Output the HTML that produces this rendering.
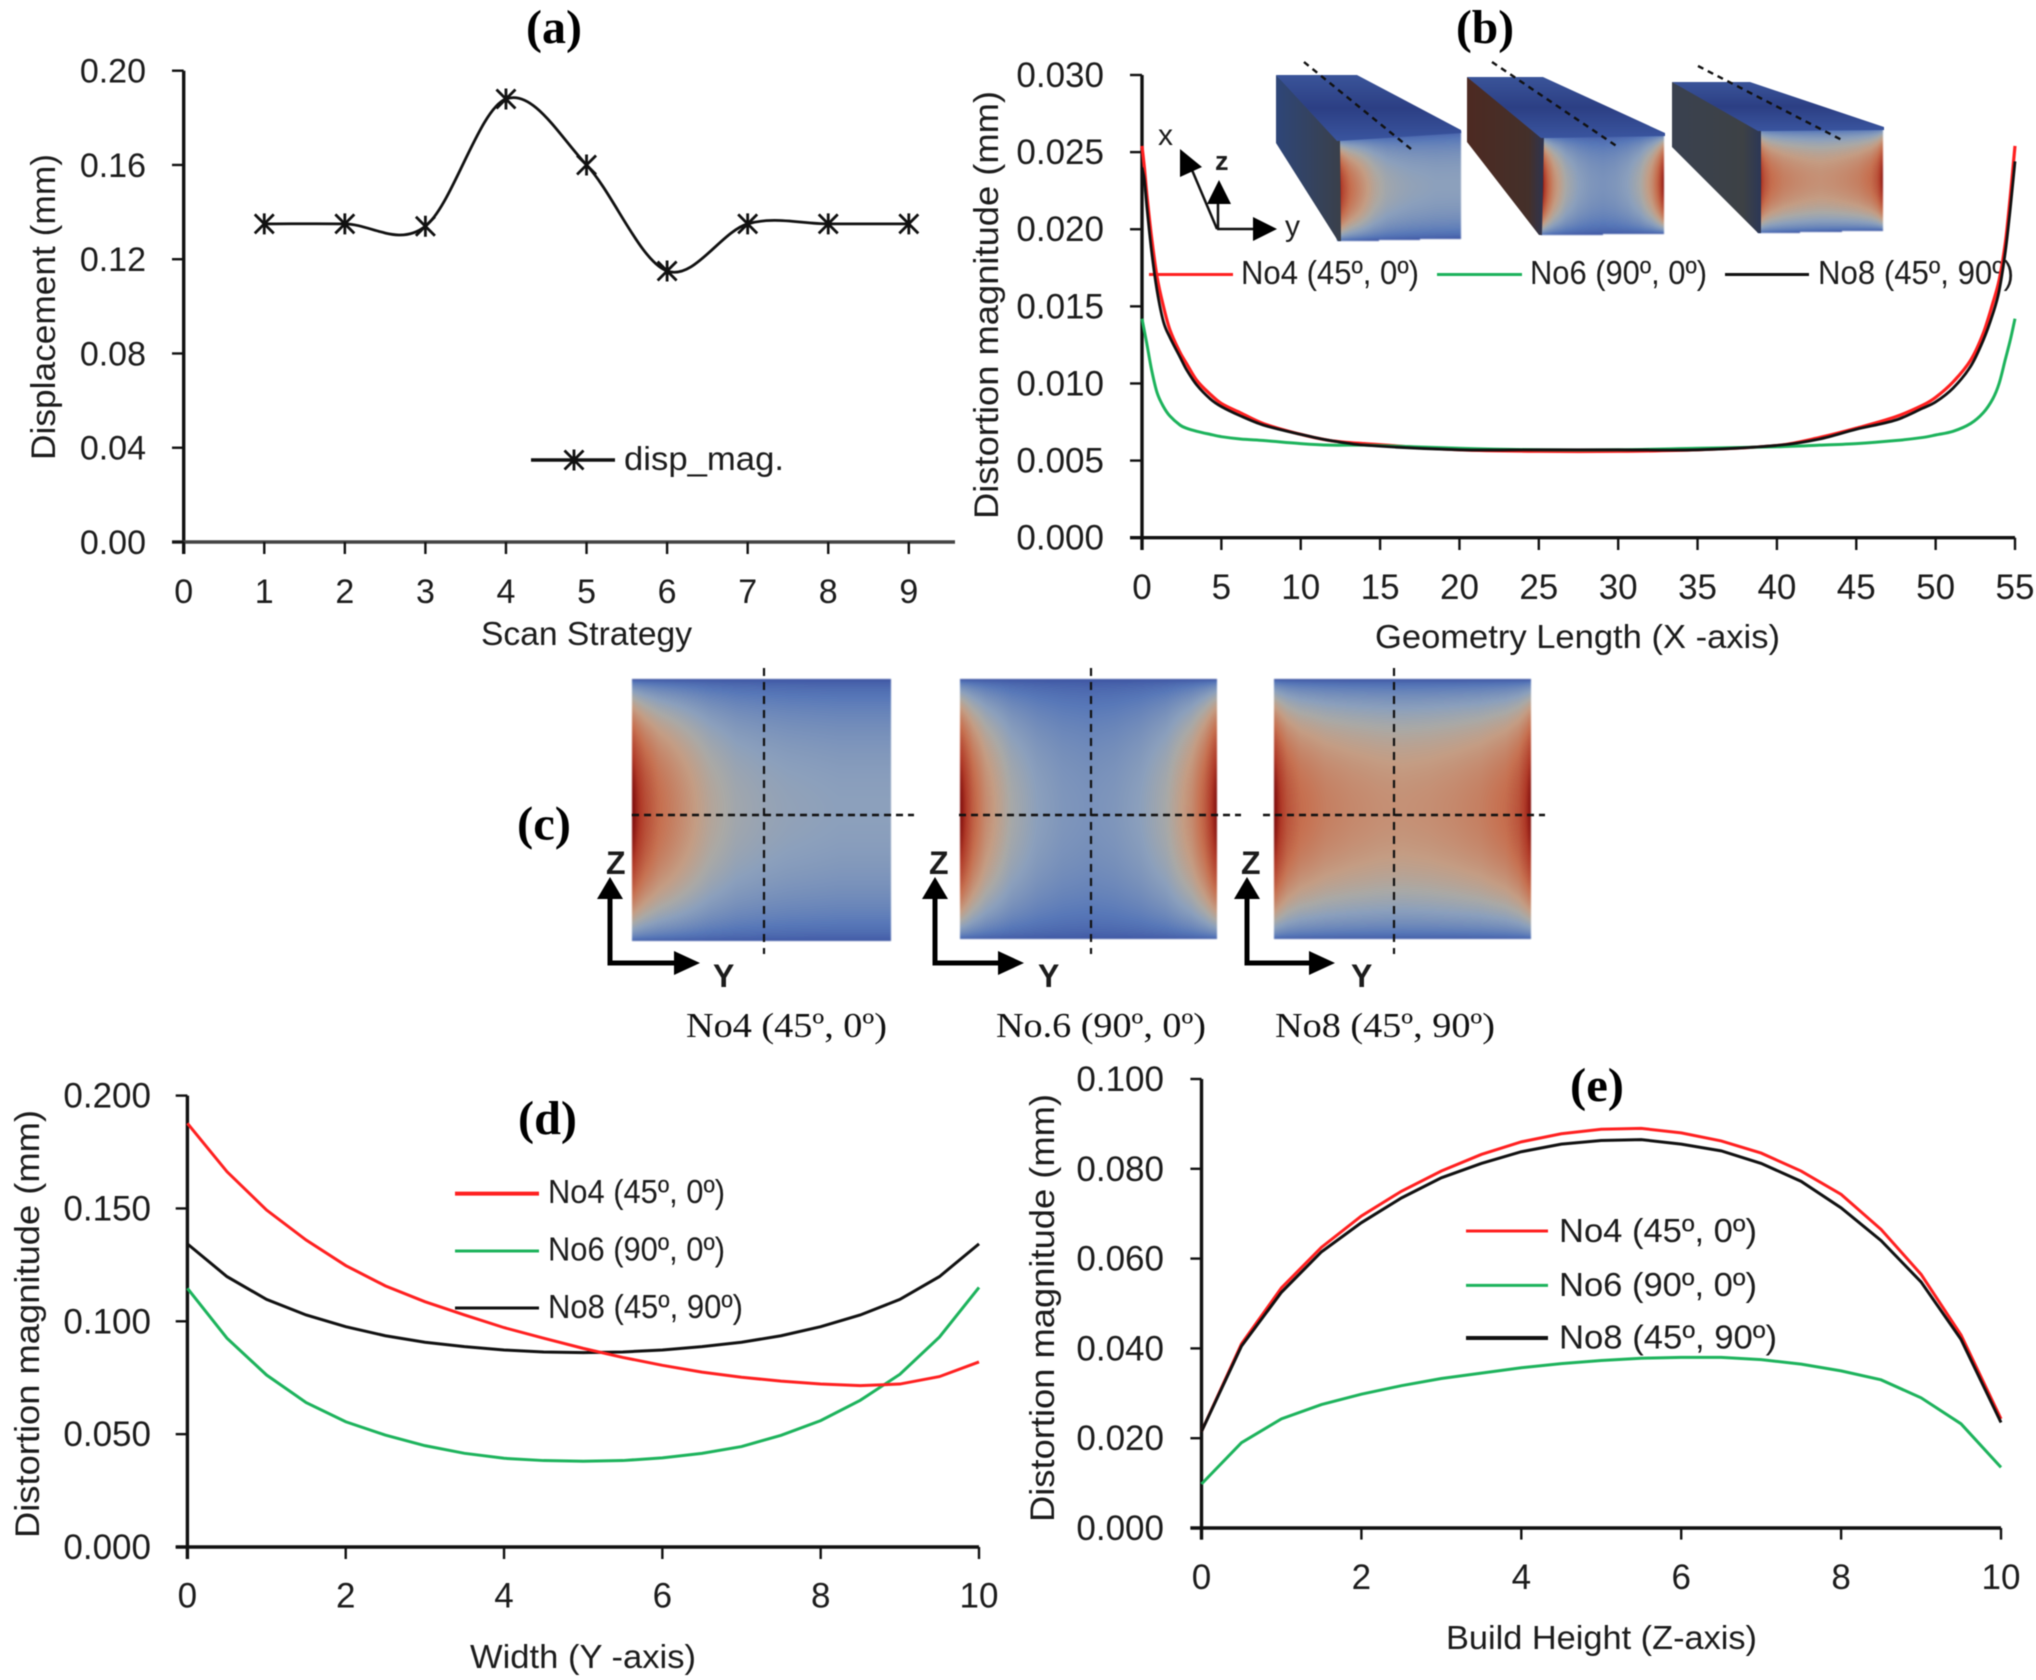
<!DOCTYPE html>
<html lang="en">
<head>
<meta charset="utf-8">
<title>Distortion charts</title>
<style>
html,body{margin:0;padding:0;background:#fff;}
#page{position:relative;width:2036px;height:1680px;overflow:hidden;background:#fff;}
#field-canvas{position:absolute;left:0;top:0;filter:blur(.8px);}
#chart-svg{position:absolute;left:0;top:0;filter:blur(.45px);}
text{font-family:"Liberation Sans",sans-serif;fill:#1c1c1c;}
.serif{font-family:"Liberation Serif",serif;fill:#111;}
.pl{font-family:"Liberation Serif",serif;font-weight:bold;font-size:48px;fill:#000;}
.tick{font-size:34px;}
.title{font-size:34px;}
.xtitle{font-size:33px;}
.leg{font-size:33px;}
</style>
</head>
<body>
<div id="page">
<canvas id="field-canvas" width="2036" height="1680"></canvas>
<svg id="chart-svg" xmlns="http://www.w3.org/2000/svg" width="2036" height="1680" viewBox="0 0 2036 1680">
<defs>
<linearGradient id="top-grad" x1="0" y1="0" x2="0" y2="1"><stop offset="0" stop-color="#3a5499"/><stop offset=".5" stop-color="#2c3f84"/><stop offset="1" stop-color="#3a559f"/></linearGradient>
<linearGradient id="side-a" x1="0" y1="0" x2="1" y2="0"><stop offset="0" stop-color="#2e4678"/><stop offset="1" stop-color="#3a404a"/></linearGradient>
<linearGradient id="side-b" x1="0" y1="0" x2="1" y2="0"><stop offset="0" stop-color="#4d2a22"/><stop offset=".8" stop-color="#44302a"/><stop offset="1" stop-color="#2e3450"/></linearGradient>
<linearGradient id="side-c" x1="0" y1="0" x2="1" y2="0"><stop offset="0" stop-color="#3a4150"/><stop offset=".8" stop-color="#3d4145"/><stop offset="1" stop-color="#2c3756"/></linearGradient>
</defs>

<!-- panel letters -->
<text class="pl" x="526" y="43" textLength="56" lengthAdjust="spacingAndGlyphs">(a)</text>
<text class="pl" x="1456" y="43" textLength="58" lengthAdjust="spacingAndGlyphs">(b)</text>
<text class="pl" x="517" y="839.5" textLength="54" lengthAdjust="spacingAndGlyphs">(c)</text>
<text class="pl" x="518" y="1134" textLength="59" lengthAdjust="spacingAndGlyphs">(d)</text>
<text class="pl" x="1570" y="1101" textLength="54" lengthAdjust="spacingAndGlyphs">(e)</text>

<!-- panel a text -->
<text class="title" transform="translate(55,460) rotate(-90)" textLength="306" lengthAdjust="spacingAndGlyphs">Displacement (mm)</text>
<text class="xtitle" x="481" y="645" textLength="211" lengthAdjust="spacingAndGlyphs">Scan Strategy</text>
<text class="leg" x="624" y="470" textLength="160" lengthAdjust="spacingAndGlyphs">disp_mag.</text>

<!-- panel b inset blocks -->
<g>
<polygon points="1276,75 1340,138 1341,241 1338,241 1276,143" fill="url(#side-a)"/>
<polygon points="1276,75 1357,75 1461,130 1461,133 1337,141" fill="url(#top-grad)"/>
<polygon points="1467,77 1544,135 1542,235 1539,235 1467,142" fill="url(#side-b)"/>
<polygon points="1467,77 1543,77 1665,133 1665,136 1541,138" fill="url(#top-grad)"/>
<polygon points="1672,82 1761,128 1761,233 1758,233 1672,147" fill="url(#side-c)"/>
<polygon points="1672,82 1750,82 1884,127 1884,130 1758,131" fill="url(#top-grad)"/>
<line x1="1304" y1="62" x2="1411" y2="149" stroke="#111" stroke-width="2.4" stroke-dasharray="6 5"/>
<line x1="1492" y1="62" x2="1618" y2="147" stroke="#111" stroke-width="2.4" stroke-dasharray="6 5"/>
<line x1="1698" y1="66" x2="1842" y2="140" stroke="#111" stroke-width="2.4" stroke-dasharray="6 5"/>
</g>

<!-- triad -->
<g>
<line x1="1217" y1="229" x2="1192" y2="170" stroke="#111" stroke-width="2.5"/>
<polygon points="1180,149 1202,167 1180,177" fill="#000"/>
<line x1="1218" y1="229" x2="1218" y2="204" stroke="#111" stroke-width="2.5"/>
<polygon points="1219,180 1207,204 1231,204" fill="#000"/>
<line x1="1217" y1="229" x2="1254" y2="229" stroke="#111" stroke-width="2.5"/>
<polygon points="1277,229 1253,217 1253,241" fill="#000"/>
<text x="1158" y="145" font-size="30">x</text>
<text x="1215" y="170" font-size="27" font-weight="bold">z</text>
<text x="1285" y="236" font-size="30">y</text>
</g>

<!-- panel b text -->
<text class="title" transform="translate(998,519) rotate(-90)" textLength="428" lengthAdjust="spacingAndGlyphs">Distortion magnitude (mm)</text>
<text class="xtitle" x="1375" y="648" textLength="405" lengthAdjust="spacingAndGlyphs">Geometry Length (X -axis)</text>
<line x1="1149" y1="274.5" x2="1233" y2="274.5" stroke="#ff2020" stroke-width="3"/>
<text class="leg" x="1241" y="284" textLength="178" lengthAdjust="spacingAndGlyphs">No4 (45º, 0º)</text>
<line x1="1437" y1="274.5" x2="1522" y2="274.5" stroke="#1db35c" stroke-width="3"/>
<text class="leg" x="1530" y="284" textLength="177" lengthAdjust="spacingAndGlyphs">No6 (90º, 0º)</text>
<line x1="1725" y1="274.5" x2="1809" y2="274.5" stroke="#111" stroke-width="3"/>
<text class="leg" x="1818" y="284" textLength="196" lengthAdjust="spacingAndGlyphs">No8 (45º, 90º)</text>

<!-- panel c overlays -->
<g stroke="#111" fill="none">
<line x1="764" y1="668" x2="764" y2="954" stroke-width="2.2" stroke-dasharray="8 6"/>
<line x1="1091" y1="668" x2="1091" y2="954" stroke-width="2.2" stroke-dasharray="8 6"/>
<line x1="1394" y1="668" x2="1394" y2="954" stroke-width="2.2" stroke-dasharray="8 6"/>
<line x1="632" y1="815" x2="914" y2="815" stroke-width="2.4" stroke-dasharray="7 5"/>
<line x1="959" y1="815" x2="1241" y2="815" stroke-width="2.4" stroke-dasharray="7 5"/>
<line x1="1263" y1="815" x2="1545" y2="815" stroke-width="2.4" stroke-dasharray="7 5"/>
</g>
<g>
<path d="M610,899 V963 H675" fill="none" stroke="#000" stroke-width="5"/>
<polygon points="610,877 597,899 623,899" fill="#000"/>
<polygon points="700,963 674,951 674,975" fill="#000"/>
<text x="606" y="874" font-size="32" font-weight="bold">Z</text>
<text x="713" y="987" font-size="32" font-weight="bold">Y</text>
</g>
<g>
<path d="M935,899 V963 H999" fill="none" stroke="#000" stroke-width="5"/>
<polygon points="935,877 922,899 948,899" fill="#000"/>
<polygon points="1024,963 998,951 998,975" fill="#000"/>
<text x="929" y="874" font-size="32" font-weight="bold">Z</text>
<text x="1038" y="987" font-size="32" font-weight="bold">Y</text>
</g>
<g>
<path d="M1247,899 V963 H1310" fill="none" stroke="#000" stroke-width="5"/>
<polygon points="1247,877 1234,899 1260,899" fill="#000"/>
<polygon points="1335,963 1309,951 1309,975" fill="#000"/>
<text x="1241" y="874" font-size="32" font-weight="bold">Z</text>
<text x="1351" y="987" font-size="32" font-weight="bold">Y</text>
</g>
<text class="serif" font-size="35" x="686" y="1037" textLength="201" lengthAdjust="spacingAndGlyphs">No4 (45º, 0º)</text>
<text class="serif" font-size="35" x="996" y="1037" textLength="210" lengthAdjust="spacingAndGlyphs">No.6 (90º, 0º)</text>
<text class="serif" font-size="35" x="1275" y="1037" textLength="220" lengthAdjust="spacingAndGlyphs">No8 (45º, 90º)</text>

<!-- panel d text -->
<text class="title" transform="translate(39,1538) rotate(-90)" textLength="428" lengthAdjust="spacingAndGlyphs">Distortion magnitude (mm)</text>
<text class="xtitle" x="470" y="1668" textLength="226" lengthAdjust="spacingAndGlyphs">Width (Y -axis)</text>
<line x1="455" y1="1193.6" x2="539" y2="1193.6" stroke="#ff2020" stroke-width="4"/>
<text class="leg" x="548" y="1203" textLength="177" lengthAdjust="spacingAndGlyphs">No4 (45º, 0º)</text>
<line x1="455" y1="1251" x2="539" y2="1251" stroke="#1db35c" stroke-width="3"/>
<text class="leg" x="548" y="1260.5" textLength="177" lengthAdjust="spacingAndGlyphs">No6 (90º, 0º)</text>
<line x1="455" y1="1308" x2="539" y2="1308" stroke="#111" stroke-width="3"/>
<text class="leg" x="548" y="1318" textLength="195" lengthAdjust="spacingAndGlyphs">No8 (45º, 90º)</text>

<!-- panel e text -->
<text class="title" transform="translate(1054,1522) rotate(-90)" textLength="428" lengthAdjust="spacingAndGlyphs">Distortion magnitude (mm)</text>
<text class="xtitle" x="1446" y="1649" textLength="311" lengthAdjust="spacingAndGlyphs">Build Height (Z-axis)</text>
<line x1="1466" y1="1231" x2="1548" y2="1231" stroke="#ff2020" stroke-width="3"/>
<text class="leg" x="1559" y="1242" font-size="35" textLength="198" lengthAdjust="spacingAndGlyphs">No4 (45º, 0º)</text>
<line x1="1466" y1="1285.4" x2="1548" y2="1285.4" stroke="#1db35c" stroke-width="3"/>
<text class="leg" x="1559" y="1296" font-size="35" textLength="198" lengthAdjust="spacingAndGlyphs">No6 (90º, 0º)</text>
<line x1="1466" y1="1338" x2="1548" y2="1338" stroke="#111" stroke-width="4"/>
<text class="leg" x="1559" y="1348.6" font-size="35" textLength="218" lengthAdjust="spacingAndGlyphs">No8 (45º, 90º)</text>

<g id="marks"></g>
</svg>
</div>

<script>
// ---------- Panel (a) data ----------
const aCategories = [1, 2, 3, 4, 5, 6, 7, 8, 9];
const aDispMag = [0.135, 0.135, 0.134, 0.188, 0.160, 0.115, 0.135, 0.135, 0.135];
const aXTicks = [0, 1, 2, 3, 4, 5, 6, 7, 8, 9];
const aYTicks = [0, 0.04, 0.08, 0.12, 0.16, 0.20];
const aYTickLabels = ['0.00', '0.04', '0.08', '0.12', '0.16', '0.20'];

// ---------- Panel (b) data ----------
const bLength = [0, .15, .3, .6, .95, 1.35, 1.75, 2.4, 2.8, 3.45, 4.3, 5, 6.2, 7.65, 10, 11.85, 14, 20, 25, 30, 35, 40.2, 42.7, 45, 47.5, 49.2, 50, 51.1, 52.2, 53, 53.6, 54, 54.4, 54.7, 55];
const bNo4 = [.0254, .0240, .0223, .0195, .0169, .0150, .0135, .0120, .0113, .0102, .0093, .0087, .0081, .0074, .0067, .0063, .0061, .0057, .0056, .0056, .0057, .0060, .0065, .0071, .00785, .0086, .0091, .0101, .0115, .01325, .0152, .0167, .0192, .0221, .0254];
const bNo6 = [.0142, .0134, .0126, .0109, .0094, .0085, .0079, .0073, .0071, .0069, .0067, .00655, .0064, .0063, .0061, .0060, .0060, .0058, .0057, .0057, .0058, .0059, .0060, .0061, .0063, .0065, .00666, .0069, .0074, .0081, .0090, .0100, .0116, .0128, .0142];
const bNo8 = [.0240, .0232, .0215, .0186, .0160, .0140, .0130, .0117, .0109, .0099, .0090, .0085, .0079, .0073, .0067, .0063, .0060, .0057, .0057, .0057, .0057, .0060, .0064, .00703, .00763, .0084, .0088, .0097, .0111, .0128, .0145, .0160, .0186, .0213, .0244];
const bXTicks = [0, 5, 10, 15, 20, 25, 30, 35, 40, 45, 50, 55];
const bYTicks = [0, 0.005, 0.010, 0.015, 0.020, 0.025, 0.030];
const bYTickLabels = ['0.000', '0.005', '0.010', '0.015', '0.020', '0.025', '0.030'];

// ---------- Panel (d) data ----------
const dWidth = [0, .5, 1, 1.5, 2, 2.5, 3, 3.5, 4, 4.5, 5, 5.5, 6, 6.5, 7, 7.5, 8, 8.5, 9, 9.5, 10];
const dNo4 = [.1877, .1663, .1493, .136, .1247, .1157, .1087, .1028, .0972, .0925, .088, .084, .0805, .0775, .0752, .0735, .0722, .0715, .0722, .0755, .082];
const dNo6 = [.1146, .0925, .0762, .064, .0555, .0496, .0449, .0415, .0393, .0383, .038, .0383, .0395, .0415, .0445, .0495, .056, .065, .0765, .093, .115];
const dNo8 = [.1343, .1198, .1097, .1028, .0976, .0936, .0907, .0888, .0873, .0864, .0861, .0864, .0873, .0888, .0907, .0936, .0976, .1028, .1097, .1198, .1343];
const dXTicks = [0, 2, 4, 6, 8, 10];
const dYTicks = [0, 0.05, 0.10, 0.15, 0.20];
const dYTickLabels = ['0.000', '0.050', '0.100', '0.150', '0.200'];

// ---------- Panel (e) data ----------
const eHeight = [0, .5, 1, 1.5, 2, 2.5, 3, 3.5, 4, 4.5, 5, 5.5, 6, 6.5, 7, 7.5, 8, 8.5, 9, 9.5, 10];
const eNo4 = [.0215, .041, .0535, .0625, .0695, .0750, .0795, .0832, .086, .0878, .0888, .089, .088, .0862, .0835, .0795, .0743, .0665, .0565, .043, .0243];
const eNo6 = [.0098, .019, .0243, .0275, .0298, .0317, .0333, .0345, .0357, .0366, .0373, .0378, .038, .038, .0375, .0365, .035, .033, .029, .0232, .0135];
const eNo8 = [.0215, .0405, .0525, .0615, .0680, .0735, .078, .0812, .0838, .0855, .0863, .0865, .0855, .084, .0812, .0772, .0713, .0640, .0548, .042, .0235];
const eXTicks = [0, 2, 4, 6, 8, 10];
const eYTicks = [0, 0.02, 0.04, 0.06, 0.08, 0.10];
const eYTickLabels = ['0.000', '0.020', '0.040', '0.060', '0.080', '0.100'];

// Relative distortion across the section width for the contour maps (panel c)
const sectionWidthPos = [0, .02, .05, .1, .2, .3, .4, .5, .6, .7, .8, .9, .95, .98, 1];
const sectionNo4 = [1, .93, .85, .76, .65, .54, .47, .44, .42, .41, .40, .40, .40, .40, .40];
const sectionNo6 = [1, .92, .80, .66, .49, .40, .35, .33, .35, .40, .49, .66, .80, .92, 1];
const sectionNo8 = [1, .92, .83, .76, .70, .67, .65, .64, .65, .67, .70, .76, .83, .92, 1];
const rampStops = [0, .2, .4, .5, .6, .75, .9, 1];
const rampColors = [[58, 80, 160], [88, 120, 184], [140, 160, 188], [170, 169, 166], [196, 157, 132], [198, 112, 80], [176, 58, 40], [125, 10, 10]];

const SVGNS = 'http://www.w3.org/2000/svg';
const marks = document.getElementById('marks');

function make(tag, attrs, parent) {
  const n = document.createElementNS(SVGNS, tag);
  for (const k in attrs) n.setAttribute(k, attrs[k]);
  (parent || marks).appendChild(n);
  return n;
}

function linear(d0, d1, r0, r1) {
  return v => r0 + (v - d0) * (r1 - r0) / (d1 - d0);
}

function drawAxes(panel, sx, sy, xTicks, yTicks, yLabels, o) {
  const g = make('g', {});
  
  
  const yAxis = make('line', { x1: sx(0), x2: sx(0), y1: sy(yTicks[yTicks.length - 1]), y2: o.bottomTick, stroke: '#111', 'stroke-width': 3.4 }, g);
  
  
  const xAxis = make('line', { x1: o.leftTick, x2: o.xEnd, y1: sy(0), y2: sy(0), stroke: o.xColor || '#111', 'stroke-width': 3.4 }, g);
  
  
  xTicks.forEach(t => {
    const tl = make('line', { x1: sx(t), x2: sx(t), y1: sy(0), y2: o.bottomTick, stroke: '#111', 'stroke-width': 2.4 }, g);
    
    
    const lb = make('text', { x: sx(t), y: o.xLabelY, 'text-anchor': 'middle', 'class': 'tick' }, g);
    
    
    lb.style.fontSize = o.fs + 'px';
    lb.textContent = String(t);
  });
  yTicks.forEach((t, i) => {
    const tl = make('line', { x1: o.leftTick, x2: sx(0), y1: sy(t), y2: sy(t), stroke: '#111', 'stroke-width': 2.4 }, g);
    
    
    const lb = make('text', { x: o.yLabelX, y: sy(t) + 12, 'text-anchor': 'end', 'class': 'tick' }, g);
    
    
    lb.style.fontSize = o.fs + 'px';
    lb.textContent = yLabels[i];
  });
}

function linePath(xs, ys, sx, sy) {
  return xs.map((x, i) => (i ? 'L' : 'M') + sx(x).toFixed(2) + ',' + sy(ys[i]).toFixed(2)).join(' ');
}

// Hermite spline with finite-difference tangents (equals Catmull-Rom on even spacing)
function smoothPath(xs, ys, sx, sy) {
  const P = xs.map((x, i) => [sx(x), sy(ys[i])]);
  const n = P.length;
  const slope = i => {
    const a = P[Math.max(i - 1, 0)], b = P[Math.min(i + 1, n - 1)];
    return (b[1] - a[1]) / (b[0] - a[0]);
  };
  let d = 'M' + P[0][0].toFixed(2) + ',' + P[0][1].toFixed(2);
  for (let i = 0; i < n - 1; i++) {
    const h = P[i + 1][0] - P[i][0];
    const m1 = slope(i), m2 = slope(i + 1);
    d += ' C' + (P[i][0] + h / 3).toFixed(2) + ',' + (P[i][1] + m1 * h / 3).toFixed(2) + ' ' +
      (P[i + 1][0] - h / 3).toFixed(2) + ',' + (P[i + 1][1] - m2 * h / 3).toFixed(2) + ' ' +
      P[i + 1][0].toFixed(2) + ',' + P[i + 1][1].toFixed(2);
  }
  return d;
}

function asterisk(cx, cy, parent) {
  const r = 9.5;
  return make('path', {
    d: `M${cx - r},${cy - r} L${cx + r},${cy + r} M${cx - r},${cy + r} L${cx + r},${cy - r} M${cx},${cy - r - 1} L${cx},${cy + r + 1}`,
    stroke: '#111', 'stroke-width': 2.8, fill: 'none'
  }, parent);
}

// Panel a
const axA = linear(0, 9, 183.7, 908.8);
const ayA = linear(0, 0.2, 542, 70.7);
drawAxes('a', axA, ayA, aXTicks, aYTicks, aYTickLabels, { leftTick: 172, bottomTick: 554, xEnd: 955, xLabelY: 603, yLabelX: 146, fs: 34, xColor: '#444' });
const aLine = make('path', { d: smoothPath(aCategories, aDispMag, axA, ayA), fill: 'none', stroke: '#111', 'stroke-width': 2.8 });


aCategories.forEach((c, i) => {
  const m = asterisk(axA(c), ayA(aDispMag[i]));
  
  
});
const aLegendLine = make('line', { x1: 531, x2: 615, y1: 460, y2: 460, stroke: '#111', 'stroke-width': 3.4 });


const aLegendMark = asterisk(574, 460);



// Panel b
const axB = linear(0, 55, 1142, 2015);
const ayB = linear(0, 0.03, 537.7, 75);
drawAxes('b', axB, ayB, bXTicks, bYTicks, bYTickLabels, { leftTick: 1130, bottomTick: 550, xEnd: 2015, xLabelY: 599, yLabelX: 1104, fs: 35 });
const bRed = make('path', { d: smoothPath(bLength, bNo4, axB, ayB), fill: 'none', stroke: '#ff2020', 'stroke-width': 3.2 });


const bGreen = make('path', { d: smoothPath(bLength, bNo6, axB, ayB), fill: 'none', stroke: '#1db35c', 'stroke-width': 3 });


const bBlack = make('path', { d: smoothPath(bLength, bNo8, axB, ayB), fill: 'none', stroke: '#111', 'stroke-width': 2.8 });



// Panel d
const axD = linear(0, 10, 187.4, 979);
const ayD = linear(0, 0.2, 1547, 1095.6);
drawAxes('d', axD, ayD, dXTicks, dYTicks, dYTickLabels, { leftTick: 175.7, bottomTick: 1559, xEnd: 979, xLabelY: 1607.6, yLabelX: 151, fs: 35 });
const dGreen = make('path', { d: linePath(dWidth, dNo6, axD, ayD), fill: 'none', stroke: '#1db35c', 'stroke-width': 3 });


const dBlack = make('path', { d: linePath(dWidth, dNo8, axD, ayD), fill: 'none', stroke: '#111', 'stroke-width': 3 });


const dRed = make('path', { d: linePath(dWidth, dNo4, axD, ayD), fill: 'none', stroke: '#ff2020', 'stroke-width': 3 });



// Panel e
const axE = linear(0, 10, 1201.5, 2001);
const ayE = linear(0, 0.1, 1528, 1079);
drawAxes('e', axE, ayE, eXTicks, eYTicks, eYTickLabels, { leftTick: 1190.4, bottomTick: 1539.6, xEnd: 2001, xLabelY: 1589, yLabelX: 1164, fs: 35 });
const eRed = make('path', { d: linePath(eHeight, eNo4, axE, ayE), fill: 'none', stroke: '#ff2020', 'stroke-width': 3 });


const eBlack = make('path', { d: linePath(eHeight, eNo8, axE, ayE), fill: 'none', stroke: '#111', 'stroke-width': 3 });


const eGreen = make('path', { d: linePath(eHeight, eNo6, axE, ayE), fill: 'none', stroke: '#1db35c', 'stroke-width': 3 });



// Contour faces
const ctx = document.getElementById('field-canvas').getContext('2d');

function interp(xs, ys, x) {
  for (let i = 0; i < xs.length - 1; i++) {
    if (x <= xs[i + 1]) {
      const k = (x - xs[i]) / (xs[i + 1] - xs[i]);
      return ys[i] + (ys[i + 1] - ys[i]) * k;
    }
  }
  return ys[ys.length - 1];
}

function rampColor(t) {
  return [0, 1, 2].map(c => interp(rampStops, rampColors.map(r => r[c]), t));
}

function paintFace(xl, xr, yTL, yTR, yBL, yBR, profile) {
  const x0 = Math.floor(xl), w = Math.ceil(xr) - x0;
  const y0 = Math.floor(Math.min(yTL, yTR)), h = Math.ceil(Math.max(yBL, yBR)) - y0;
  const img = ctx.createImageData(w, h);
  for (let j = 0; j < h; j++) {
    for (let i = 0; i < w; i++) {
      const px = x0 + i, py = y0 + j;
      const u = (px - xl) / (xr - xl);
      if (u < 0 || u > 1) continue;
      const top = yTL + (yTR - yTL) * u, bot = yBL + (yBR - yBL) * u;
      const v = (py - top) / (bot - top);
      if (v < 0 || v > 1) continue;
      const A = Math.pow(Math.max(0, 1 - Math.pow(2 * v - 1, 2)), 0.52);
      const c = rampColor(Math.min(1, A * interp(sectionWidthPos, profile, u)));
      const k = (j * w + i) * 4;
      img.data[k] = c[0];
      img.data[k + 1] = c[1];
      img.data[k + 2] = c[2];
      img.data[k + 3] = 255;
    }
  }
  ctx.putImageData(img, x0, y0);
}

// panel b front faces
paintFace(1337, 1460.5, 138, 130, 241, 238, sectionNo4);
paintFace(1541, 1664, 135, 133, 235, 233, sectionNo6);
paintFace(1758, 1883, 128, 127, 233, 230, sectionNo8);
// panel c sections
paintFace(632, 891, 679, 679, 941, 941, sectionNo4);
paintFace(959.5, 1217, 679, 679, 939, 939, sectionNo6);
paintFace(1274, 1531, 679, 679, 939, 939, sectionNo8);
</script>
</body>
</html>
